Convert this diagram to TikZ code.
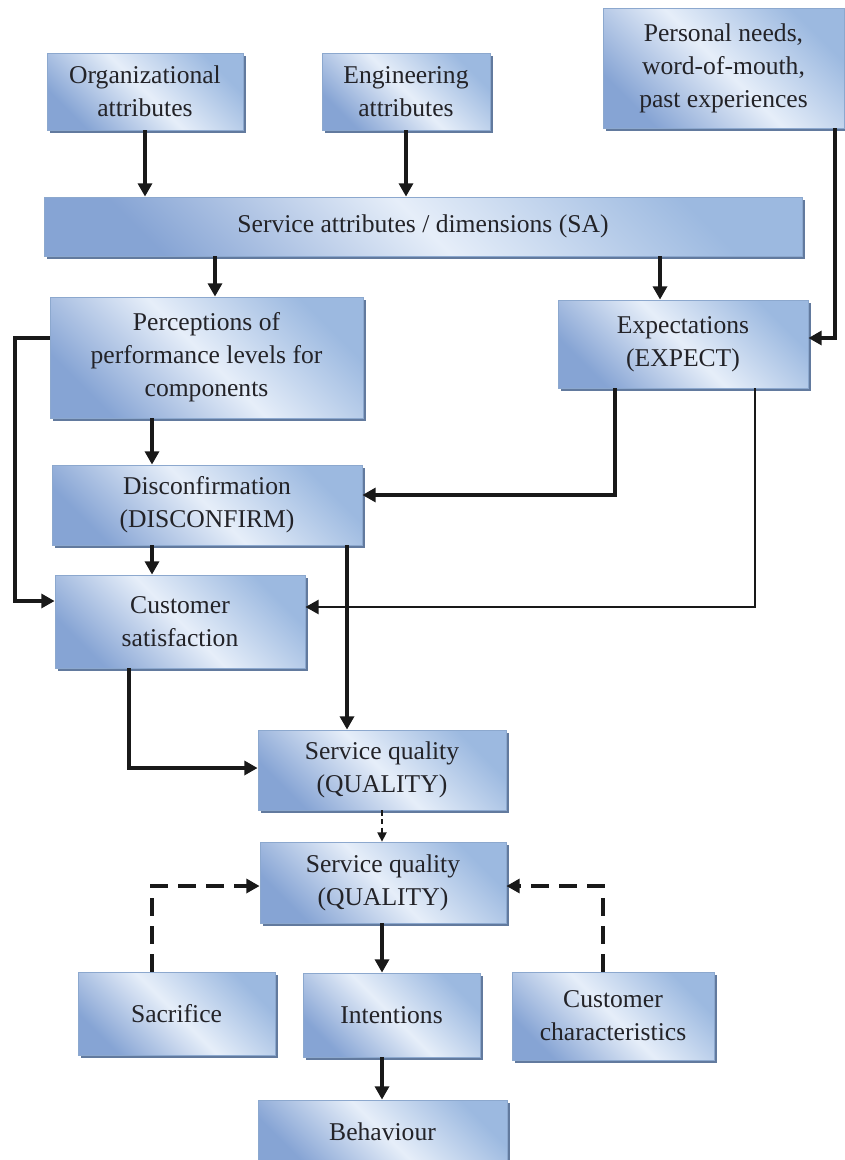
\documentclass[tikz,border=0pt]{standalone}
\usepackage{fontspec}
\setmainfont{Liberation Serif}
\usetikzlibrary{arrows.meta,shadows}

\definecolor{boxdark}{RGB}{134,164,212}
\definecolor{boxlight}{RGB}{230,238,249}
\definecolor{boxmid}{RGB}{156,185,224}
\definecolor{boxline}{RGB}{140,168,206}
\definecolor{shadowc}{RGB}{98,122,158}
\definecolor{txt}{RGB}{35,35,40}

\begin{document}
\begin{tikzpicture}[x=0.75pt,y=-0.75pt,
  box/.style={draw=boxline, line width=0.6pt,
    top color=boxdark, bottom color=boxmid, middle color=boxlight,
    shading angle=135,
    drop shadow={shadow xshift=2.4pt, shadow yshift=-2.4pt, fill=shadowc, opacity=1},
    align=center, inner sep=2pt, text=txt,
    font=\fontsize{19.2}{24.75}\selectfont},
  arr/.style={line width=3.2pt, draw=black!90, -{Triangle[length=10pt,width=10.5pt]}},
  arrthin/.style={line width=2.2pt, draw=black!90, -{Triangle[length=10pt,width=10.5pt]}},
  dsh/.style={line width=3.6pt, draw=black!90, dash pattern=on 13pt off 8pt,
    -{Triangle[length=10pt,width=10.5pt]}},
  dshthin/.style={line width=1.1pt, draw=black!90, dash pattern=on 4pt off 2.5pt,
    -{Triangle[length=7pt,width=7pt]}}]

\useasboundingbox (0,0) rectangle (844,1160);

% boxes
\node[box, minimum width=147pt, minimum height=57.75pt] (org) at (145,91.5)
  {Organizational\\attributes};
\node[box, minimum width=126pt, minimum height=57.75pt] (eng) at (406,91.5)
  {Engineering\\attributes};
\node[box, minimum width=180.75pt, minimum height=90pt] (pers) at (723.5,68)
  {Personal needs,\\word-of-mouth,\\past experiences};
\node[box, minimum width=568.5pt, minimum height=44.25pt] (sa) at (423,226.5)
  {Service attributes / dimensions (SA)};
\node[box, minimum width=234.75pt, minimum height=90.75pt] (perc) at (206.5,357.5)
  {Perceptions of\\performance levels for\\components};
\node[box, minimum width=187.5pt, minimum height=66pt] (exp) at (683,344)
  {Expectations\\(EXPECT)};
\node[box, minimum width=232.5pt, minimum height=60pt] (disc) at (207,505)
  {Disconfirmation\\(DISCONFIRM)};
\node[box, minimum width=187.5pt, minimum height=69.75pt] (cs) at (180,621.5)
  {Customer\\satisfaction};
\node[box, minimum width=186pt, minimum height=60pt] (sq1) at (382,770)
  {Service quality\\(QUALITY)};
\node[box, minimum width=184.5pt, minimum height=60.75pt] (sq2) at (383,882.5)
  {Service quality\\(QUALITY)};
\node[box, minimum width=147.75pt, minimum height=62.25pt] (sac) at (176.5,1013.5)
  {Sacrifice};
\node[box, minimum width=132.75pt, minimum height=63pt] (int) at (391.5,1015)
  {Intentions};
\node[box, minimum width=151.5pt, minimum height=66pt] (cc) at (613,1016)
  {Customer\\characteristics};
\node[box, minimum width=186.75pt, minimum height=48pt] (beh) at (382.5,1132)
  {Behaviour};

% guide points for the connector routes
\coordinate (pc) at (835,338);
\coordinate (a1) at (215,0);
\coordinate (a2) at (660,0);
\coordinate (a3) at (152,0);
\coordinate (l1) at (15,338);
\coordinate (l2) at (15,601);
\coordinate (e1) at (615,495);
\coordinate (e2) at (755,607);
\coordinate (d1) at (347,0);
\coordinate (c1) at (129,768);
\coordinate (m) at (382,0);
\coordinate (s1) at (152,886);
\coordinate (s2) at (603,886);

% connectors
\draw[arr] (org.south) -- (org.south |- sa.north);
\draw[arr] (eng.south) -- (eng.south |- sa.north);
\draw[arr] (pers.south -| pc) -- (pc) -- (exp.east |- pc);
\draw[arr] (sa.south -| a1) -- (perc.north -| a1);
\draw[arr] (sa.south -| a2) -- (exp.north -| a2);
\draw[arr] (perc.south -| a3) -- (disc.north -| a3);
\draw[arr] (perc.west |- l1) -- (l1) -- (l2) -- (cs.west |- l2);
\draw[arr] (exp.south -| e1) -- (e1) -- (disc.east |- e1);
\draw[arrthin] (exp.south -| e2) -- (e2) -- (cs.east |- e2);
\draw[arr] (disc.south -| a3) -- (cs.north -| a3);
\draw[arr] (disc.south -| d1) -- (sq1.north -| d1);
\draw[arr] (cs.south -| c1) -- (c1) -- (sq1.west |- c1);
\draw[dshthin] (sq1.south -| m) -- (sq2.north -| m);
\draw[dsh] (sac.north -| s1) -- (s1) -- (sq2.west |- s1);
\draw[dsh] (cc.north -| s2) -- (s2) -- (sq2.east |- s2);
\draw[arr] (sq2.south -| m) -- (int.north -| m);
\draw[arr] (int.south -| m) -- (beh.north -| m);
\end{tikzpicture}
\end{document}
